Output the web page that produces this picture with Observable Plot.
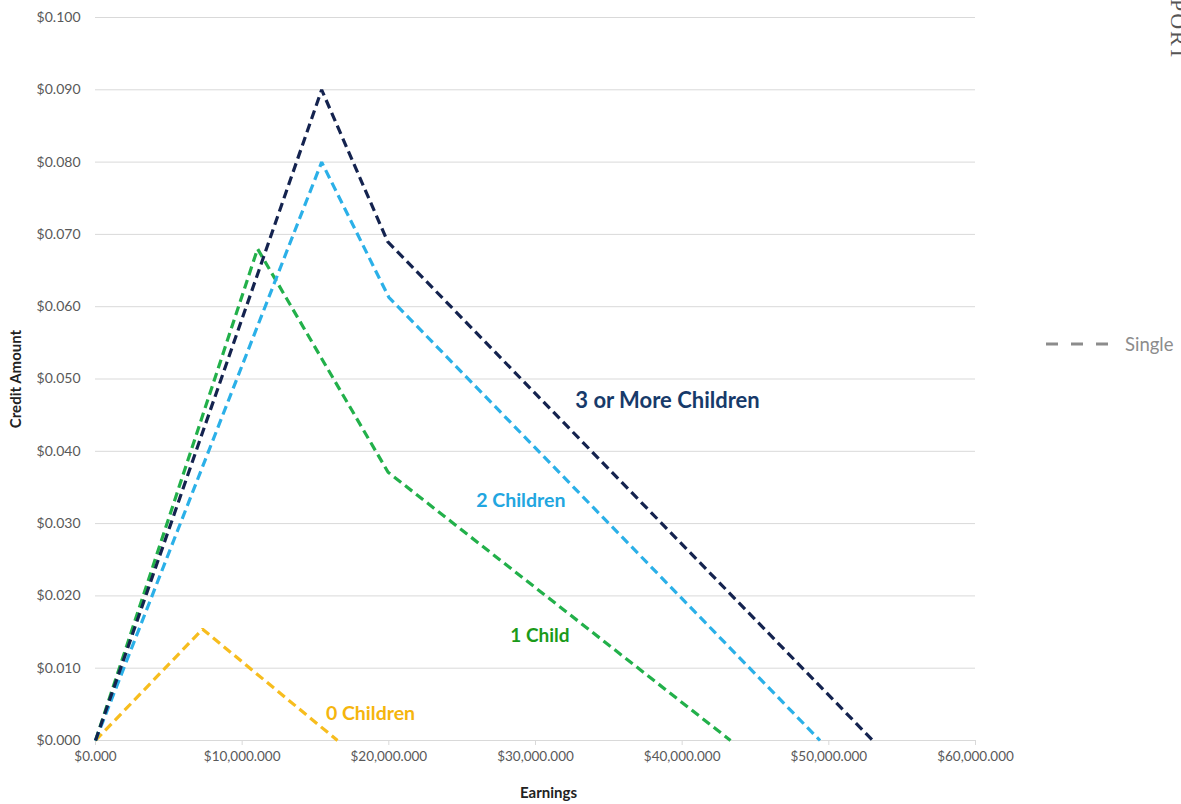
<!DOCTYPE html>
<html>
<head>
<meta charset="utf-8">
<script src="https://cdn.jsdelivr.net/npm/d3@7"></script>
<script src="https://cdn.jsdelivr.net/npm/@observablehq/plot@0.6"></script>
<style>
  html, body { margin: 0; padding: 0; background: #fff; }
  #wrap { position: relative; width: 1181px; height: 804px; overflow: hidden; font-family: Lato, "Open Sans", sans-serif; }
  #legend { position: absolute; left: 1044px; top: 333px; display: flex; align-items: center; color: #8c8c8c; font-size: 18.5px; }
  #legend svg { margin-right: 15px; }
  #running { position: absolute; left: 1189px; top: -1px; transform-origin: top left; transform: rotate(90deg);
             font-family: "Liberation Serif", "DejaVu Serif", serif; font-size: 22px; line-height: 22px;
             letter-spacing: 2px; color: #555; white-space: nowrap; }
</style>
</head>
<body>
<div id="wrap">
  <div id="chart"></div>
  <div id="legend">
    <svg width="66" height="6"><line x1="2" y1="3" x2="64" y2="3" stroke="#8c8c8c" stroke-width="3" stroke-dasharray="12,13"/></svg>
    <span>Single</span>
  </div>
  <div id="running">PORT</div>
</div>
<script>
// Earnings (x) and credit amount (y) at each vertex of the single-filer schedules
const earnings0 = [0, 7300, 16500];
const credit0   = [0, 0.0154, 0];

const earnings1 = [0, 11050, 19950, 43300];
const credit1   = [0, 0.068, 0.0371, 0];

const earnings2 = [0, 15420, 20000, 49400];
const credit2   = [0, 0.080, 0.0613, 0];

const earnings3 = [0, 15420, 19920, 53000];
const credit3   = [0, 0.090, 0.069, 0];

const seriesNames = ["0 Children", "1 Child", "2 Children", "3 or More Children"];

const xTicks = [0, 10000, 20000, 30000, 40000, 50000, 60000];
const yTicks = [0, 0.01, 0.02, 0.03, 0.04, 0.05, 0.06, 0.07, 0.08, 0.09, 0.10];

const lineColors  = ["#f7bd1e", "#22b04a", "#2bb0e8", "#14234f"];
const labelColors = ["#f5b50d", "#1a9a1a", "#22a6e0", "#173a6a"];

const toRows = (xs, ys, name) => xs.map((x, i) => ({x, y: ys[i], series: name}));
const rows = [
  ...toRows(earnings0, credit0, seriesNames[0]),
  ...toRows(earnings1, credit1, seriesNames[1]),
  ...toRows(earnings2, credit2, seriesNames[2]),
  ...toRows(earnings3, credit3, seriesNames[3])
];

// Label anchors, in data units, for the in-chart series names
const labels = [
  {series: seriesNames[3], x: 39000, y: 0.0469, size: 22},
  {series: seriesNames[2], x: 29000, y: 0.0331, size: 19.5},
  {series: seriesNames[1], x: 30300, y: 0.0145, size: 19},
  {series: seriesNames[0], x: 18750, y: 0.0037, size: 19.5}
];

const colorOf = d3.scaleOrdinal(seriesNames, labelColors);

const chart = Plot.plot({
  width: 1181,
  height: 804,
  marginLeft: 95,
  marginRight: 206,
  marginTop: 17,
  marginBottom: 64,
  style: {fontFamily: "Lato, 'Open Sans', sans-serif", fontSize: "13px", background: "#fff"},
  x: {domain: [0, 60000]},
  y: {domain: [0, 0.10]},
  color: {domain: seriesNames, range: lineColors},
  marks: [
    Plot.gridY(yTicks, {stroke: "#d9d9d9", strokeOpacity: 1, strokeWidth: 1}),
    Plot.axisY(yTicks, {tickSize: 0, tickPadding: 15, tickFormat: d3.format("$.3f"), fill: "#595959", label: null, fontSize: 14}),
    Plot.axisX(xTicks, {tickSize: 5, tickPadding: 6, tickFormat: d3.format("$,.3f"), stroke: "#d9d9d9", fill: "#595959", label: null, fontSize: 13.5}),
    Plot.line(rows, {
      x: "x", y: "y", z: "series", stroke: "series",
      strokeWidth: 3.2, strokeDasharray: "9,5", strokeLinecap: "butt", strokeLinejoin: "miter"
    }),
    ...labels.map(l => Plot.text([l], {
      x: "x", y: "y", text: "series", fill: colorOf(l.series),
      fontSize: l.size, fontWeight: "bold", textAnchor: "middle"
    })),
    Plot.text(["Earnings"], {frameAnchor: "bottom", dy: 53, dx: 13, textAnchor: "middle", lineAnchor: "middle", fontWeight: "bold", fontSize: 15, fill: "#222"}),
    Plot.text(["Credit Amount"], {frameAnchor: "left", dx: -79, rotate: -90, textAnchor: "middle", lineAnchor: "middle", fontWeight: "bold", fontSize: 15, fill: "#222"})
  ]
});

document.getElementById("chart").append(chart);
</script>
</body>
</html>
